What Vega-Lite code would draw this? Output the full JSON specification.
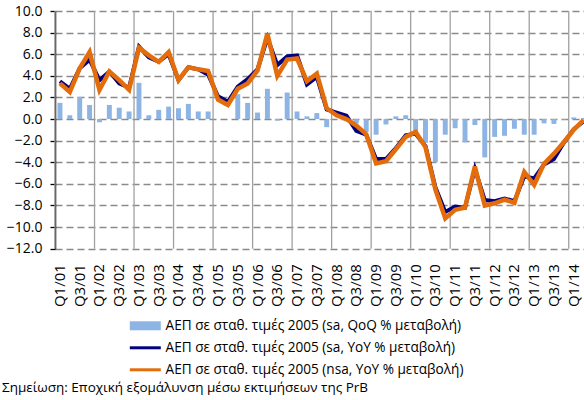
{
  "$schema": "https://vega.github.io/schema/vega-lite/v6.json",
  "autosize": {"type": "none"},
  "padding": {"left": 55, "top": 11, "right": 0, "bottom": 151.3},
  "width": 529,
  "height": 237.7,
  "background": "white",
  "config": {
    "font": "Open Sans",
    "view": {"stroke": null},
    "axis": {"labelColor": "black", "labelFont": "Open Sans"}
  },
  "title": {
    "text": "Σημείωση: Εποχική εξομάλυνση  μέσω εκτιμήσεων της PrB",
    "orient": "bottom",
    "anchor": "start",
    "frame": "group",
    "offset": 4,
    "dx": -53,
    "fontSize": 13.5,
    "fontWeight": "normal",
    "font": "Open Sans",
    "color": "black"
  },
  "data": {
    "values": [
      {"q": "Q1/01", "qoq": 1.5, "sa": 3.5, "nsa": 3.3},
      {"q": "Q2/01", "qoq": 0.35, "sa": 2.8, "nsa": 2.5},
      {"q": "Q3/01", "qoq": 2.05, "sa": 4.7, "nsa": 4.7},
      {"q": "Q4/01", "qoq": 1.3, "sa": 5.5, "nsa": 6.2},
      {"q": "Q1/02", "qoq": -0.3, "sa": 3.6, "nsa": 2.7},
      {"q": "Q2/02", "qoq": 1.3, "sa": 4.4, "nsa": 4.4},
      {"q": "Q3/02", "qoq": 1.05, "sa": 3.3, "nsa": 3.6},
      {"q": "Q4/02", "qoq": 0.7, "sa": 2.9, "nsa": 2.7},
      {"q": "Q1/03", "qoq": 3.35, "sa": 6.7, "nsa": 6.6},
      {"q": "Q2/03", "qoq": 0.35, "sa": 5.7, "nsa": 5.9},
      {"q": "Q3/03", "qoq": 0.85, "sa": 5.3, "nsa": 5.3},
      {"q": "Q4/03", "qoq": 1.15, "sa": 6.0, "nsa": 6.2},
      {"q": "Q1/04", "qoq": 1.0, "sa": 3.6, "nsa": 3.6},
      {"q": "Q2/04", "qoq": 1.4, "sa": 4.8, "nsa": 4.8},
      {"q": "Q3/04", "qoq": 0.7, "sa": 4.6, "nsa": 4.6},
      {"q": "Q4/04", "qoq": 0.7, "sa": 4.1, "nsa": 4.45},
      {"q": "Q1/05", "qoq": 0.0, "sa": 2.1, "nsa": 1.8},
      {"q": "Q2/05", "qoq": 0.0, "sa": 1.6, "nsa": 1.3},
      {"q": "Q3/05", "qoq": 2.3, "sa": 3.0, "nsa": 2.8},
      {"q": "Q4/05", "qoq": 1.5, "sa": 3.7, "nsa": 3.3},
      {"q": "Q1/06", "qoq": 0.6, "sa": 4.6, "nsa": 4.5},
      {"q": "Q2/06", "qoq": 2.8, "sa": 7.5, "nsa": 7.9},
      {"q": "Q3/06", "qoq": -0.15, "sa": 5.0, "nsa": 4.0},
      {"q": "Q4/06", "qoq": 2.45, "sa": 5.8, "nsa": 5.5},
      {"q": "Q1/07", "qoq": 0.7, "sa": 5.9, "nsa": 5.6},
      {"q": "Q2/07", "qoq": 0.25, "sa": 3.2, "nsa": 3.5},
      {"q": "Q3/07", "qoq": 0.55, "sa": 3.9, "nsa": 4.2},
      {"q": "Q4/07", "qoq": -0.75, "sa": 0.9, "nsa": 1.0},
      {"q": "Q1/08", "qoq": 0.0, "sa": 0.6, "nsa": 0.35},
      {"q": "Q2/08", "qoq": -0.2, "sa": 0.3, "nsa": 0.0},
      {"q": "Q3/08", "qoq": -0.4, "sa": -1.1, "nsa": -0.6},
      {"q": "Q4/08", "qoq": -1.2, "sa": -1.45, "nsa": -1.4},
      {"q": "Q1/09", "qoq": -1.45, "sa": -3.7, "nsa": -4.1},
      {"q": "Q2/09", "qoq": -0.5, "sa": -3.7, "nsa": -3.9},
      {"q": "Q3/09", "qoq": 0.25, "sa": -2.7, "nsa": -2.8},
      {"q": "Q4/09", "qoq": 0.35, "sa": -1.5, "nsa": -1.65},
      {"q": "Q1/10", "qoq": -1.3, "sa": -1.35, "nsa": -1.2},
      {"q": "Q2/10", "qoq": -2.2, "sa": -2.5, "nsa": -2.6},
      {"q": "Q3/10", "qoq": -4.0, "sa": -6.3, "nsa": -6.5},
      {"q": "Q4/10", "qoq": -1.45, "sa": -8.6, "nsa": -9.2},
      {"q": "Q1/11", "qoq": -0.85, "sa": -8.1, "nsa": -8.4},
      {"q": "Q2/11", "qoq": -2.15, "sa": -8.2, "nsa": -8.2},
      {"q": "Q3/11", "qoq": -0.55, "sa": -4.6, "nsa": -4.4},
      {"q": "Q4/11", "qoq": -3.55, "sa": -7.5, "nsa": -8.0},
      {"q": "Q1/12", "qoq": -1.65, "sa": -7.6, "nsa": -7.8},
      {"q": "Q2/12", "qoq": -1.55, "sa": -7.35, "nsa": -7.45},
      {"q": "Q3/12", "qoq": -0.9, "sa": -7.6, "nsa": -7.75},
      {"q": "Q4/12", "qoq": -1.45, "sa": -5.3, "nsa": -4.9},
      {"q": "Q1/13", "qoq": -1.45, "sa": -5.5, "nsa": -6.1},
      {"q": "Q2/13", "qoq": -0.4, "sa": -4.2, "nsa": -4.15},
      {"q": "Q3/13", "qoq": -0.45, "sa": -3.7, "nsa": -3.2},
      {"q": "Q4/13", "qoq": -0.05, "sa": -2.2, "nsa": -2.15},
      {"q": "Q1/14", "qoq": 0.15, "sa": -0.95, "nsa": -1.0},
      {"q": "Q2/14", "qoq": 0.1, "sa": -0.2, "nsa": -0.1}
    ]
  },
  "encoding": {
    "x": {
      "field": "q",
      "type": "nominal",
      "title": null,
      "scale": {
        "type": "band",
        "paddingInner": 0,
        "paddingOuter": 0,
        "range": [0, 533.5],
        "domain": ["Q1/01","Q2/01","Q3/01","Q4/01","Q1/02","Q2/02","Q3/02","Q4/02","Q1/03","Q2/03","Q3/03","Q4/03","Q1/04","Q2/04","Q3/04","Q4/04","Q1/05","Q2/05","Q3/05","Q4/05","Q1/06","Q2/06","Q3/06","Q4/06","Q1/07","Q2/07","Q3/07","Q4/07","Q1/08","Q2/08","Q3/08","Q4/08","Q1/09","Q2/09","Q3/09","Q4/09","Q1/10","Q2/10","Q3/10","Q4/10","Q1/11","Q2/11","Q3/11","Q4/11","Q1/12","Q2/12","Q3/12","Q4/12","Q1/13","Q2/13","Q3/13","Q4/13","Q1/14","Q2/14"]
      },
      "axis": {
        "values": ["Q1/01","Q3/01","Q1/02","Q3/02","Q1/03","Q3/03","Q1/04","Q3/04","Q1/05","Q3/05","Q1/06","Q3/06","Q1/07","Q3/07","Q1/08","Q3/08","Q1/09","Q3/09","Q1/10","Q3/10","Q1/11","Q3/11","Q1/12","Q3/12","Q1/13","Q3/13","Q1/14"],
        "ticks": false,
        "domain": false,
        "grid": false,
        "labelAngle": 270,
        "labelFontSize": 15,
        "labelPadding": 15,
        "labelOverlap": false,
        "labelColor": "black"
      }
    }
  },
  "layer": [
    {
      "transform": [{"filter": "indexof(datum.q, 'Q1') === 0"}],
      "mark": {"type": "rule", "color": "#a0a0a0", "strokeWidth": 1.3},
      "encoding": {
        "x": {"field": "q", "type": "nominal", "bandPosition": 0}
      }
    },
    {
      "mark": {"type": "bar", "width": {"band": 0.5}},
      "encoding": {
        "y": {
          "field": "qoq",
          "type": "quantitative",
          "title": null,
          "scale": {"domain": [-12, 10], "nice": false, "zero": false},
          "axis": {
            "values": [-12, -10, -8, -6, -4, -2, 0, 2, 4, 6, 8, 10],
            "format": ".1f",
            "labelFontSize": 14,
            "labelColor": "black",
            "labelPadding": 8,
            "labelOverlap": false,
            "tickSize": 5,
            "tickColor": "black",
            "tickWidth": 1.3,
            "domainColor": "black",
            "domainWidth": 1.5,
            "grid": true,
            "gridColor": "#8a8a8a",
            "gridDash": [7, 4],
            "gridWidth": 1.3
          }
        },
        "color": {
          "datum": "ΑΕΠ σε σταθ. τιμές 2005 (sa, QoQ % μεταβολή)",
          "scale": {
            "domain": ["ΑΕΠ σε σταθ. τιμές 2005 (sa, QoQ % μεταβολή)", "ΑΕΠ σε σταθ. τιμές 2005 (sa, YoY % μεταβολή)", "ΑΕΠ σε σταθ. τιμές 2005 (nsa, YoY % μεταβολή)"],
            "range": ["#8DB4E2", "#000080", "#E46C0A"]
          },
          "legend": {
            "orient": "none",
            "legendX": 83.5,
            "legendY": 308,
            "direction": "vertical",
            "title": null,
            "padding": 0,
            "symbolType": "M-3.1,-0.9H3.1V0.9H-3.1Z",
            "symbolSize": 100,
            "symbolStrokeWidth": 0,
            "labelFontSize": 13.6,
            "labelFont": "Open Sans",
            "labelColor": "black",
            "labelOffset": 13.5,
            "labelLimit": 500,
            "rowPadding": 7,
            "encode": {
              "symbols": {
                "update": {
                  "shape": {"signal": "datum.index === 0 ? 'M-3.1,-0.9H3.1V0.9H-3.1Z' : 'M-3.1,-0.3H3.1V0.3H-3.1Z'"},
                  "fill": {"scale": "color", "field": "value"},
                  "strokeWidth": {"value": 0},
                  "opacity": {"value": 1}
                }
              }
            }
          }
        }
      }
    },
    {
      "mark": {"type": "rule", "color": "black", "strokeWidth": 2},
      "encoding": {
        "y": {
          "datum": 0,
          "type": "quantitative",
          "axis": {
            "values": [-12, -10, -8, -6, -4, -2, 0, 2, 4, 6, 8, 10],
            "format": ".1f",
            "labelFontSize": 14,
            "labelColor": "black",
            "labelPadding": 8,
            "labelOverlap": false,
            "tickSize": 5,
            "tickColor": "black",
            "tickWidth": 1.3,
            "domainColor": "black",
            "domainWidth": 1.5,
            "grid": true,
            "gridColor": "#8a8a8a",
            "gridDash": [7, 4],
            "gridWidth": 1.3
          }
        }
      }
    },
    {
      "mark": {"type": "line", "strokeWidth": 4},
      "encoding": {
        "y": {
          "field": "sa",
          "type": "quantitative",
          "axis": {
            "values": [-12, -10, -8, -6, -4, -2, 0, 2, 4, 6, 8, 10],
            "format": ".1f",
            "labelFontSize": 14,
            "labelColor": "black",
            "labelPadding": 8,
            "labelOverlap": false,
            "tickSize": 5,
            "tickColor": "black",
            "tickWidth": 1.3,
            "domainColor": "black",
            "domainWidth": 1.5,
            "grid": true,
            "gridColor": "#8a8a8a",
            "gridDash": [7, 4],
            "gridWidth": 1.3
          }
        },
        "color": {"datum": "ΑΕΠ σε σταθ. τιμές 2005 (sa, YoY % μεταβολή)"}
      }
    },
    {
      "mark": {"type": "line", "strokeWidth": 4.5},
      "encoding": {
        "y": {
          "field": "nsa",
          "type": "quantitative",
          "axis": {
            "values": [-12, -10, -8, -6, -4, -2, 0, 2, 4, 6, 8, 10],
            "format": ".1f",
            "labelFontSize": 14,
            "labelColor": "black",
            "labelPadding": 8,
            "labelOverlap": false,
            "tickSize": 5,
            "tickColor": "black",
            "tickWidth": 1.3,
            "domainColor": "black",
            "domainWidth": 1.5,
            "grid": true,
            "gridColor": "#8a8a8a",
            "gridDash": [7, 4],
            "gridWidth": 1.3
          }
        },
        "color": {"datum": "ΑΕΠ σε σταθ. τιμές 2005 (nsa, YoY % μεταβολή)"}
      }
    }
  ]
}
